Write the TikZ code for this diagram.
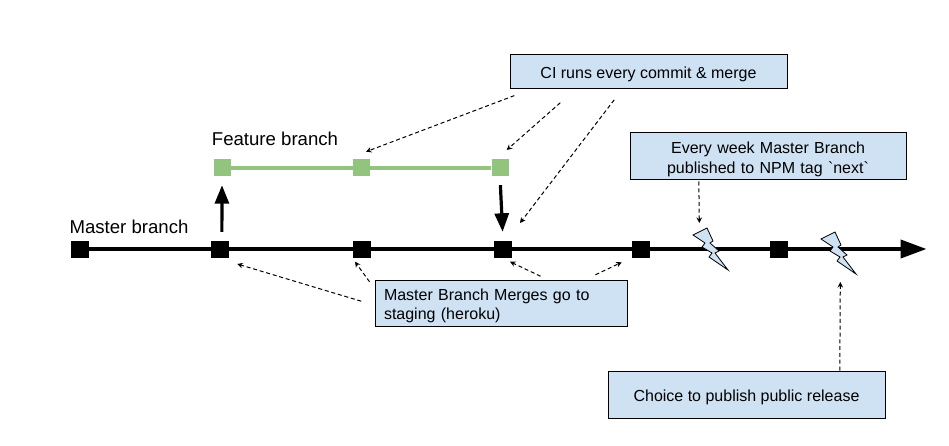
\documentclass[tikz,border=0pt]{standalone}
\usepackage{xcolor}
\usepackage{fontspec}
\setmainfont{Liberation Sans}
\usetikzlibrary{arrows.meta}
\definecolor{noteblue}{HTML}{CFE2F3}
\definecolor{featgreen}{HTML}{93C47D}
\begin{document}
\begin{tikzpicture}[
  x=1pt, y=-1pt,
  notebox/.style={draw=black, line width=1pt, fill=noteblue, align=center, inner sep=0pt,
                  font=\fontsize{16}{19.7}\selectfont, execute at begin node={\rule{0pt}{#1}}},
  notebox/.default=17.5pt,
  label/.style={inner sep=0pt, font=\fontsize{18.6}{22}\selectfont},
  mnode/.style={fill=black, minimum width=18pt, minimum height=17pt, inner sep=0pt},
  fnode/.style={fill=featgreen, minimum width=17pt, minimum height=17pt, inner sep=0pt},
  refarr/.style={-{Stealth[length=5.5pt,width=5.5pt]}, line width=1pt, dash pattern=on 4pt off 2.8pt},
  bigarr/.style={-{Triangle[length=18.5pt,width=14pt]}, line width=3.2pt, shorten <=8.5pt, shorten >=8.5pt},
  bolt/.pic={\draw[fill=noteblue, line width=0.8pt] (0,0) -- (14,-7) -- (20,6) -- (17,8) -- (26,16)
    -- (22,18) -- (35,35) -- (16,22) -- (19,18) -- (9,12) -- (12,8) -- cycle;}]
\useasboundingbox (0,0) rectangle (949,446);
\node[mnode] (m1) at (80,249) {};
\node[mnode] (m2) at (220,249) {};
\node[mnode] (m3) at (362,249) {};
\node[mnode] (m4) at (503,249) {};
\node[mnode] (m5) at (641,249) {};
\node[mnode] (m6) at (779,249) {};
\node[fnode] (f1) at (222,168) {};
\node[fnode] (f2) at (361,168) {};
\node[fnode] (f3) at (500,168) {};
\node[label] (masterlab) at (129,227) {Master branch};
\node[label] (featlab) at (275,139) {Feature branch};
\node[notebox=15.5pt, minimum width=277pt, minimum height=34pt] (ci) at (648.5,72) {CI runs every commit \& merge};
\node[notebox, minimum height=47pt, text width=258pt, inner xsep=9pt] (week) at (768,156.5) {Every week Master Branch\\published to NPM tag \textasciigrave next\textasciigrave};
\node[notebox, minimum height=46pt, text width=234pt, inner xsep=9pt, align=left] (merge) at (501,303) {Master Branch Merges go to\\staging (heroku)};
\node[notebox, minimum width=277pt, minimum height=47pt] (choice) at (746.5,394.5) {Choice to publish public release};
\coordinate (lineend) at (926.5,249);
\coordinate (tipfa) at (366,151.7);
\coordinate (tipfb) at (506.7,150);
\coordinate (tipma) at (520,223);
\coordinate (tipbolta) at (699.3,223);
\coordinate (tipboltb) at (840.3,282);
\coordinate (tipmb) at (237.3,264);
\coordinate (tipmc) at (355,261.7);
\coordinate (tipmd) at (510,261.7);
\coordinate (tipme) at (621.7,262.3);
\draw[-{Triangle[length=26pt,width=18pt]}, line width=4pt] (m1) -- (lineend);
\draw[featgreen, line width=3.2pt] (f1) -- (f3);
\pic at (693,235) {bolt};
\pic at (821,239) {bolt};
\draw[bigarr] (m2.78) -- (f1.south);
\draw[bigarr] (f3.south) -- (m4.north);
\draw[refarr, shorten <=17.3pt] ([xshift=21pt]ci.south west) -- (tipfa);
\draw[refarr, shorten <=20pt] ([xshift=65.8pt]ci.south west) -- (tipfb);
\draw[refarr, shorten <=13pt] ([xshift=112.6pt]ci.south west) -- (tipma);
\draw[refarr, shorten <=1pt] ([xshift=69.3pt]week.south west) -- (tipbolta);
\draw[refarr] ([xshift=232.3pt]choice.north west) -- (tipboltb);
\draw[refarr, shorten <=13.9pt] ([yshift=-25.7pt]merge.north west) -- (tipmb);
\draw[refarr, shorten <=8.5pt] ([yshift=-9.2pt]merge.north west) -- (tipmc);
\draw[refarr, shorten <=7.5pt] ([xshift=172.8pt]merge.north west) -- (tipmd);
\draw[refarr, shorten <=11pt] ([xshift=211pt]merge.north west) -- (tipme);
\end{tikzpicture}
\end{document}
